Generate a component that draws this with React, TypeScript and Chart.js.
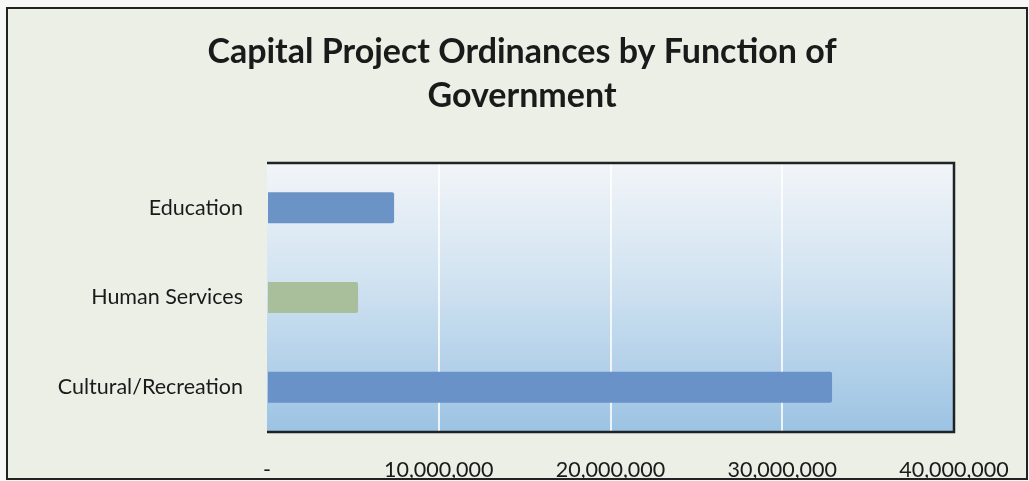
import React, { useEffect, useRef } from "react";
import { Chart, registerables } from "chart.js";

Chart.register(...registerables);

const categories = ["Education", "Human Services", "Cultural/Recreation"];
const values = [7400000, 5300000, 32900000];
const barColors = ["#6b93c6", "#a9bf9c", "#6892c8"];
const xTicks = [0, 10000000, 20000000, 30000000, 40000000];
const titleLines = ["Capital Project Ordinances by Function of", "Government"];

const FONT = "Lato, 'Open Sans', sans-serif";

export default function App() {
  const ref = useRef<HTMLCanvasElement | null>(null);

  useEffect(() => {
    document.body.style.margin = "0";
    const canvas = ref.current;
    if (!canvas) return;

    const decor = {
      id: "decor",
      beforeDraw(chart: any) {
        const ctx = chart.ctx;
        const { left, right, top, bottom } = chart.chartArea;
        ctx.save();
        ctx.fillStyle = "#f7f7f5";
        ctx.fillRect(0, 0, chart.width, chart.height);
        ctx.fillStyle = "#ebefe6";
        ctx.fillRect(7, 8, 1020, 471);
        const g = ctx.createLinearGradient(0, top, 0, bottom);
        g.addColorStop(0, "#f2f5f8");
        g.addColorStop(0.45, "#d0e2f1");
        g.addColorStop(1, "#9cc3e3");
        ctx.fillStyle = g;
        ctx.fillRect(left, top, right - left, bottom - top);
        ctx.restore();
      },
      afterDraw(chart: any) {
        const ctx = chart.ctx;
        const { left, right, top, bottom } = chart.chartArea;
        ctx.save();
        ctx.strokeStyle = "#1e2326";
        ctx.lineWidth = 2.5;
        ctx.beginPath();
        ctx.moveTo(left, top);
        ctx.lineTo(right, top);
        ctx.lineTo(right, bottom);
        ctx.lineTo(left, bottom);
        ctx.stroke();
        // outer border
        ctx.strokeStyle = "#222";
        ctx.lineWidth = 2;
        ctx.strokeRect(7, 8, 1020, 471);
        // title
        ctx.fillStyle = "#1a1a1a";
        ctx.font = `bold 34px ${FONT}`;
        ctx.textAlign = "center";
        ctx.textBaseline = "alphabetic";
        ctx.fillText(titleLines[0], 522, 63);
        ctx.fillText(titleLines[1], 522, 107);
        ctx.restore();
      },
    };

    const chart = new Chart(canvas, {
      type: "bar",
      data: {
        labels: categories,
        datasets: [
          {
            data: values,
            backgroundColor: barColors,
            borderRadius: 2,
            borderSkipped: "start",
            categoryPercentage: 1,
            barPercentage: 0.345,
          },
        ],
      },
      options: {
        indexAxis: "y",
        animation: false,
        responsive: false,
        maintainAspectRatio: false,
        layout: { padding: { top: 163, right: 75, bottom: 0, left: 0 } },
        plugins: {
          legend: { display: false },
          title: { display: false },
          tooltip: { enabled: false },
        },
        scales: {
          x: {
            min: 0,
            max: 40000000,
            afterFit(scale: any) {
              scale.height = 49;
              scale.paddingLeft = 0;
              scale.paddingRight = 0;
            },
            afterBuildTicks(scale: any) {
              scale.ticks = xTicks.map((v) => ({ value: v }));
            },
            ticks: {
              padding: 25,
              color: "#1a1a1a",
              font: { family: FONT, size: 21.5 },
              callback: (v: any) =>
                Number(v) === 0 ? "-" : Number(v).toLocaleString("en-US"),
            },
            grid: {
              drawTicks: false,
              lineWidth: 2,
              color: (c: any) =>
                c.tick && c.tick.value > 0 && c.tick.value < 40000000
                  ? "rgba(255,255,255,0.8)"
                  : "rgba(0,0,0,0)",
            },
            border: { display: false },
          },
          y: {
            afterFit(scale: any) {
              scale.width = 267;
              scale.paddingTop = 0;
              scale.paddingBottom = 0;
            },
            ticks: {
              padding: 24,
              color: "#1a1a1a",
              font: { family: FONT, size: 21.5 },
            },
            grid: { display: false, drawTicks: false },
            border: { display: false },
          },
        },
      },
      plugins: [decor],
    });

    return () => chart.destroy();
  }, []);

  return (
    <div style={{ width: 1029, height: 481 }}>
      <canvas ref={ref} width={1029} height={481} style={{ display: "block" }} />
    </div>
  );
}
